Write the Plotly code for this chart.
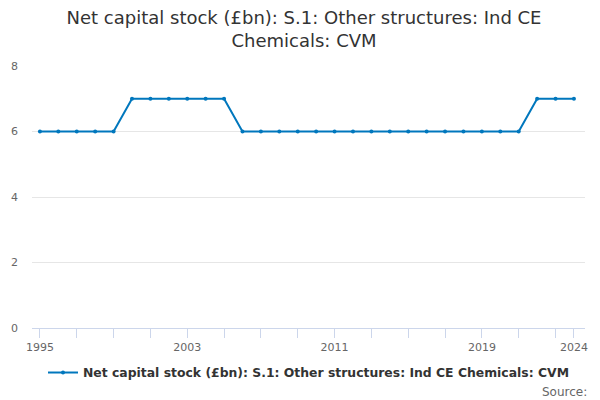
import plotly.graph_objects as go

years = list(range(1995, 2025))
values = [6, 6, 6, 6, 6,
          7, 7, 7, 7, 7, 7,
          6, 6, 6, 6, 6, 6, 6, 6, 6, 6, 6, 6, 6, 6, 6, 6,
          7, 7, 7]
series_name = "Net capital stock (£bn): S.1: Other structures: Ind CE Chemicals: CVM"
title_text = "Net capital stock (£bn): S.1: Other structures: Ind CE<br>Chemicals: CVM"
label_years = [1995, 2003, 2011, 2019, 2024]
tick_years = list(range(1995, 2024, 2)) + [2024]
tick_text = [str(y) if y in label_years else "" for y in tick_years]

FONT = "DejaVu Sans"
fig = go.Figure()
fig.add_trace(go.Scatter(
    x=years, y=values, mode="lines+markers", name=series_name,
    line=dict(color="#0077bd", width=2),
    marker=dict(color="#0077bd", size=4),
    showlegend=True,
))
fig.update_layout(
    width=592, height=392,
    paper_bgcolor="white", plot_bgcolor="white",
    margin=dict(l=24, r=15, t=58, b=72, autoexpand=False),
    title=dict(text=title_text, x=0.5, xanchor="center", y=0.959, yanchor="top",
               font=dict(family=FONT, size=18, color="#333333")),
    font=dict(family=FONT, color="#666666", size=11),
    xaxis=dict(range=[1994.57, 2024.6], tickmode="array", tickvals=tick_years, ticktext=tick_text,
               showgrid=False, zeroline=False, showline=True, linecolor="#ccd6eb", linewidth=1,
               ticks="outside", ticklen=9, tickcolor="#ccd6eb", tickwidth=1, automargin=False,
               tickfont=dict(family=FONT, size=11, color="#666666"), fixedrange=True),
    yaxis=dict(range=[0, 8], tickvals=[0, 2, 4, 6, 8], showgrid=True, gridcolor="#e6e6e6",
               gridwidth=1, zeroline=False, showline=False, ticks="", ticklabelstandoff=13,
               automargin=False,
               tickfont=dict(family=FONT, size=11, color="#666666")),
    legend=dict(orientation="h", x=0.5, xanchor="center", y=0.069, yref="container",
                yanchor="middle",
                font=dict(family=FONT, size=12.4, color="#333333", weight="bold"),
                bgcolor="rgba(0,0,0,0)"),
    annotations=[dict(text="Source:", xref="paper", yref="paper", x=1.008, y=-0.244,
                      xanchor="right", yanchor="middle", showarrow=False,
                      font=dict(family=FONT, size=12, color="#666666"))],
)
fig.write_html("out.html")
